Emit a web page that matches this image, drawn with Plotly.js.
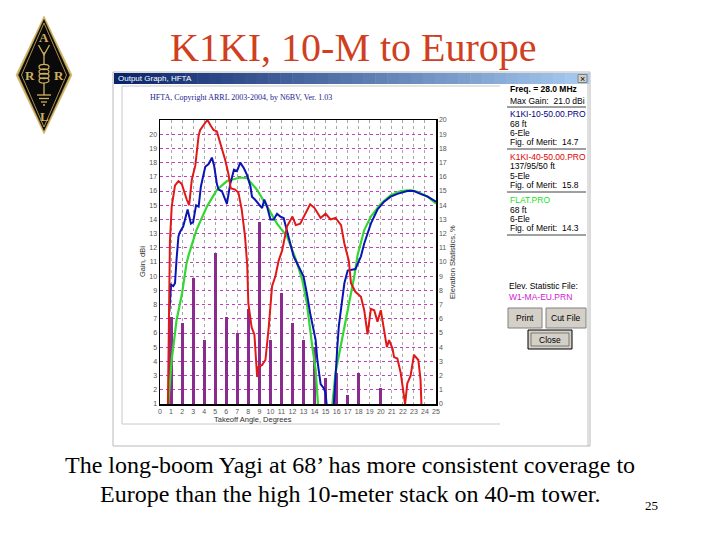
<!DOCTYPE html>
<html><head><meta charset="utf-8">
<script src="https://cdn.plot.ly/plotly-3.0.1.min.js"></script>
<style>html,body{margin:0;padding:0;background:#fff;}#chart{width:720px;height:540px;}</style>
</head><body><div id="chart"></div>
<script>
// ---------- data ----------
const barDeg = [1,2,3,4,5,6,7,8,9,10,11,12,13,14,15,16,17,18,19,20];
const barPct = [6.1,5.7,8.9,4.5,10.6,6.1,5.0,6.7,12.8,4.5,7.8,5.7,4.5,4.0,1.8,2.2,0.6,2.2,0,1.1];

const redDeg = [0.7,0.8,0.9,1.06,1.36,1.67,1.97,2.42,2.64,2.88,3.2,3.5,3.64,4.0,4.3,4.6,4.85,5.15,5.45,5.9,6.2,6.4,6.8,7.1,7.4,7.7,7.9,8.0,8.3,8.55,8.8,8.9,9.25,9.55,9.85,10.15,10.45,10.75,11.06,11.5,12.0,12.3,12.7,13.2,13.6,14.0,14.55,15.0,15.45,15.9,16.4,16.7,17.0,17.1,17.3,17.7,18.2,18.5,18.8,19.1,19.4,19.7,20.0,20.3,20.55,20.75,21.06,21.2,21.5,21.8,22.2,22.4,22.7,23.0,23.4,23.6,23.7];
const redGain = [0,6,12.5,14.9,16.4,16.7,16.5,15.4,15.0,16.8,17.8,19.9,20.3,20.7,21.0,20.6,20.3,20.2,19.4,18.2,17.2,16.2,16.1,15.9,14.7,12.8,10.8,8.1,6.4,5.9,2.9,3.6,3.75,4.1,6.4,9.3,10.0,11.1,11.8,13.5,14.2,13.6,13.7,14.5,15.06,14.8,14.1,14.4,14.0,14.1,13.6,12.3,11.3,11.1,9.5,8.9,8.55,7.6,5.9,7.7,7.6,6.8,7.6,6.1,5.0,5.5,4.9,4.3,4.2,3.2,1.0,2.45,3.0,4.45,4.1,2.7,0.5];

const blueDeg = [0.85,0.9,1.0,1.2,1.36,1.5,1.67,1.8,2.1,2.5,2.8,3.0,3.27,3.5,3.7,4.1,4.4,4.7,4.9,5.15,5.3,5.6,6.06,6.36,6.7,6.97,7.27,7.6,7.9,8.2,8.33,8.6,8.9,9.25,9.45,9.7,10.0,10.3,10.6,10.9,11.2,11.5,11.8,12.1,12.6,13.0,13.3,13.6,14.1,14.25,14.55,14.85,15.0,15.15,15.6,15.75,16.06,16.2,16.7,17.0,17.7,17.9,18.2,18.5,19.1,19.7,20.3,20.9,21.5,22.4,23.0,23.6,24.25,25];
const blueGain = [7.5,8.3,9.4,9.3,9.5,11.2,12.8,13.1,13.5,14.7,13.7,13.8,15.0,14.9,16.3,17.7,17.9,18.35,17.8,16.5,16.1,16.0,15.1,16.5,17.5,17.4,18.0,17.6,17.1,16.3,15.6,15.4,15.1,14.8,15.4,14.9,14.0,14.0,14.4,14.2,14.1,13.1,12.3,11.4,10.6,10.0,8.8,7.4,5.5,4.1,2.4,2.1,1.75,0.5,0.5,1.0,5.0,6.5,9.5,10.4,10.5,10.9,11.4,12.3,13.7,14.7,15.25,15.6,15.8,16.0,16.0,15.8,15.6,15.25];

const greenDeg = [0.75,0.8,1.06,1.5,2.0,2.4,2.6,3.3,4.25,5.15,6.06,7.27,7.9,8.8,9.7,10.6,11.5,12.3,12.9,13.3,13.8,14.1,14.35,14.9,15.55,15.7,15.9,16.7,17.3,17.6,17.9,18.5,19.1,20.0,20.9,21.8,22.7,23.3,24.25,25];
const greenGain = [0.5,1.5,4.1,6.9,8.8,10.9,11.5,13.25,14.9,16.07,16.7,16.95,16.9,16.07,14.9,13.7,12.8,11.2,9.7,8.1,5.0,3.4,0.5,null,0.5,1.5,3.2,6.4,8.8,10.0,11.5,13.25,14.2,15.1,15.7,16.0,16.07,15.95,15.6,15.1];

const xTicks = [0,1,2,3,4,5,6,7,8,9,10,11,12,13,14,15,16,17,18,19,20,21,22,23,24,25];
const gainTicks = [1,2,3,4,5,6,7,8,9,10,11,12,13,14,15,16,17,18,19,20];
const pctTicks = [0,1,2,3,4,5,6,7,8,9,10,11,12,13,14,15,16,17,18,19,20];

const titleText = "K1KI, 10-M to Europe";
const captionLines = ["The long-boom Yagi at 68’ has more consistent coverage to","Europe than the high 10-meter stack on 40-m tower."];
const pageNum = "25";
const panelLines = [
  ["Freq. = 28.0 MHz", 89, "#000", true],
  ["Max Gain:  21.0 dBi", 101, "#000", false],
  ["K1KI-10-50.00.PRO", 114, "#000080", false],
  ["68 ft", 124, "#000", false],
  ["6-Ele", 133, "#000", false],
  ["Fig. of Merit:  14.7", 142, "#000", false],
  ["K1KI-40-50.00.PRO", 157, "#e00000", false],
  ["137/95/50 ft", 166, "#000", false],
  ["5-Ele", 176, "#000", false],
  ["Fig. of Merit:  15.8", 185, "#000", false],
  ["FLAT.PRO", 200, "#20e020", false],
  ["68 ft", 210, "#000", false],
  ["6-Ele", 219, "#000", false],
  ["Fig. of Merit:  14.3", 228, "#000", false]
];

// ---------- geometry helpers (pixel -> paper) ----------
const L=160, R=436, T=120, B=404;
const X = p => (p-L)/(R-L);
const Y = p => (B-p)/(B-T);
const shapes = [];
const anns = [];
function rect(x0,y0,x1,y1,fill,lc,lw,layer){
  shapes.push({type:'rect',xref:'paper',yref:'paper',x0:X(x0),x1:X(x1),y0:Y(y1),y1:Y(y0),
    fillcolor:fill||'rgba(0,0,0,0)',line:{color:lc||'rgba(0,0,0,0)',width:lw===undefined?1:lw},layer:layer||'below'});
}
function line(x0,y0,x1,y1,c,w,dash){
  shapes.push({type:'line',xref:'paper',yref:'paper',x0:X(x0),x1:X(x1),y0:Y(y0),y1:Y(y1),
    line:{color:c,width:w||1,dash:dash||'solid'},layer:'above'});
}
function path(pts,fill,lc,lw,close){
  let d='M'+pts.map(p=>X(p[0])+','+Y(p[1])).join(' L')+(close?' Z':'');
  shapes.push({type:'path',xref:'paper',yref:'paper',path:d,fillcolor:fill||'rgba(0,0,0,0)',
    line:{color:lc||'rgba(0,0,0,0)',width:lw||0},layer:'above'});
}
function circ(cx,cy,rx,ry,c,w){
  shapes.push({type:'circle',xref:'paper',yref:'paper',x0:X(cx-rx),x1:X(cx+rx),y0:Y(cy+ry),y1:Y(cy-ry),
    line:{color:c,width:w},fillcolor:'rgba(0,0,0,0)',layer:'above'});
}
function text(t,x,y,font,xa,extra){
  anns.push(Object.assign({text:t,x:X(x),y:Y(y),xref:'paper',yref:'paper',showarrow:false,
    xanchor:xa||'center',yanchor:'middle',font:font},extra||{}));
}

// ---------- window frame ----------
rect(113,72,590,446,'#ffffff','#b8b8b8',1);
const n=40;
for(let i=0;i<n;i++){
  const t=i/(n-1);
  const c=`rgb(${Math.round(10+t*(166-10))},${Math.round(36+t*(202-36))},${Math.round(106+t*(240-106))})`;
  rect(114+i*(475/n),73,114+(i+1)*(475/n)+0.5,84,c,c,0);
}
rect(578,74.5,587,82.5,'#d4d0c8','#808080',1);
text('×',582.5,78.5,{family:'Liberation Sans',size:9,color:'#000'});
text('Output Graph, HFTA',116,78.5,{family:'Liberation Sans',size:8,color:'#fff'},'left');
line(122,86,500,86,'#c8c8c8',1);
line(122,86,122,424,'#c8c8c8',1);
line(122,424,500,424,'#c8c8c8',1);
line(588,84,588,446,'#c0c0c0',1);
text('HFTA, Copyright ARRL 2003-2004, by N6BV, Ver. 1.03',148,97,{family:'Liberation Serif',size:8,color:'#1a1a8c'},'left');

// right panel
panelLines.forEach(p=>{
  text(p[3]?'<b>'+p[0]+'</b>':p[0],508,p[1],{family:'Liberation Sans',size:8.5,color:p[2]},'left');
});
[107,149,192,235].forEach(y=>line(507,y,586,y,'#404040',1));
text('Elev. Statistic File:',507,286,{family:'Liberation Sans',size:8.5,color:'#000'},'left');
text('W1-MA-EU.PRN',507,297,{family:'Liberation Sans',size:8.5,color:'#d020d0'},'left');
rect(508,308,542,328,'#d4d0c8','#808080',1);
rect(546,308,586,328,'#d4d0c8','#808080',1);
rect(528,330,572,349,'#d4d0c8','#000000',1);
rect(531,333,569,346,'rgba(0,0,0,0)','#404040',0.6);
text('Print',525,318,{family:'Liberation Sans',size:8.5,color:'#000'});
text('Cut File',566,318,{family:'Liberation Sans',size:8.5,color:'#000'});
text('Close',550,339.5,{family:'Liberation Sans',size:8.5,color:'#000'});

// axis titles
text('Takeoff Angle, Degrees',253,419,{family:'Liberation Sans',size:7.5,color:'#303030'});
text('Gain, dBi',142,262,{family:'Liberation Sans',size:7.5,color:'#303030'},'center',{textangle:-90});
text('Elevation Statistics, %',452,262,{family:'Liberation Sans',size:7.5,color:'#303030'},'center',{textangle:-90});

// slide title & caption
text(titleText,353,47,{family:'Liberation Serif',size:40,color:'#d04020'});
text(captionLines[0],350,465,{family:'Liberation Serif',size:24,color:'#000'});
text(captionLines[1],350,494,{family:'Liberation Serif',size:24,color:'#000'});
text(pageNum,651,505,{family:'Liberation Serif',size:13,color:'#000'});

// ---------- ARRL logo ----------
const gold='#cfb060';
path([[44,16],[72,75],[44,134],[16,75]],gold,gold,0.5,true);
path([[44,19.5],[69.5,75],[44,130.5],[18.5,75]],'#0a0a0a','#0a0a0a',0.5,true);
path([[44,23],[66.5,75],[44,127],[21.5,75]],null,gold,0.8,true);
text('<b>A</b>',44,37,{family:'Liberation Serif',size:13,color:gold});
text('<b>R</b>',30,75,{family:'Liberation Serif',size:13,color:gold});
text('<b>R</b>',58.5,75,{family:'Liberation Serif',size:13,color:gold});
text('<b>L</b>',44,117,{family:'Liberation Serif',size:13,color:gold});
path([[38.5,45],[44,55],[49.5,45]],null,gold,1.3,false);
path([[44,52],[44,64]],null,gold,1.3,false);
[67,71.5,76,80.5].forEach(y=>circ(44,y,5,2.6,gold,1.2));
path([[44,83],[44,95]],null,gold,1.3,false);
path([[37,95],[51,95]],null,gold,1.3,false);
path([[39,98.5],[49,98.5]],null,gold,1.3,false);
path([[41,102],[47,102]],null,gold,1.3,false);
path([[43,105],[45,105]],null,gold,1.3,false);

// ---------- traces ----------
const traces = [
  {type:'bar',x:barDeg,y:barPct,width:0.28,marker:{color:'#8a2c8e',line:{width:0}},xaxis:'x',yaxis:'y',hoverinfo:'skip'},
  {type:'scatter',mode:'lines',x:greenDeg,y:greenGain,line:{color:'#33d633',width:2.2},xaxis:'x',yaxis:'y2',connectgaps:false},
  {type:'scatter',mode:'lines',x:blueDeg,y:blueGain,line:{color:'#0a14b4',width:2},xaxis:'x',yaxis:'y2'},
  {type:'scatter',mode:'lines',x:redDeg,y:redGain,line:{color:'#e01818',width:2},xaxis:'x',yaxis:'y2'}
];

const tickFont = {family:'Liberation Sans',size:7,color:'#555'};
const layout = {
  width:720,height:540,
  margin:{l:L,r:720-R,t:T,b:540-B,pad:0},
  paper_bgcolor:'#ffffff',plot_bgcolor:'rgba(0,0,0,0)',
  showlegend:false,bargap:0,
  xaxis:{range:[0,25],tickvals:xTicks,ticktext:xTicks.map(String),tickfont:tickFont,
    showgrid:true,gridcolor:'#a8a8a8',griddash:'dot',gridwidth:1,zeroline:false,
    showline:true,linecolor:'#000',linewidth:1.5,mirror:true,ticks:'',fixedrange:true},
  yaxis:{range:[0,20],side:'right',tickvals:pctTicks,ticktext:pctTicks.map(String),tickfont:tickFont,
    showgrid:true,gridcolor:'#c040c0',griddash:'dot',gridwidth:1,zeroline:false,
    showline:true,linecolor:'#000',linewidth:1.5,ticks:'',fixedrange:true},
  yaxis2:{range:[1,21],side:'left',overlaying:'y',tickvals:gainTicks,ticktext:gainTicks.map(String),tickfont:tickFont,
    showgrid:false,zeroline:false,showline:true,linecolor:'#000',linewidth:1.5,ticks:'',fixedrange:true},
  shapes:shapes,annotations:anns
};
Plotly.newPlot('chart',traces,layout,{staticPlot:true,displayModeBar:false});
</script></body></html>
